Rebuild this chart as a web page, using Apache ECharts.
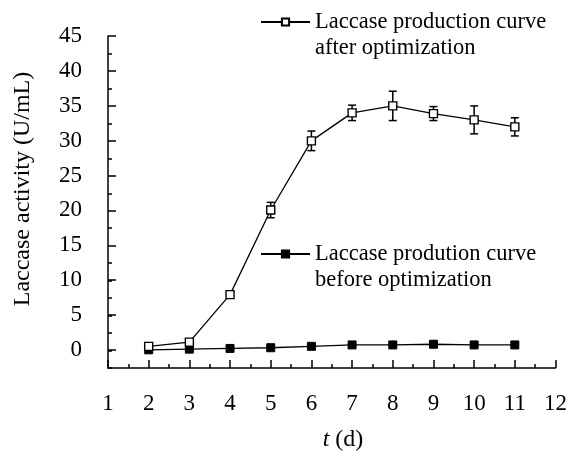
<!DOCTYPE html>
<html>
<head>
<meta charset="utf-8">
<script src="https://cdn.jsdelivr.net/npm/echarts@6/dist/echarts.min.js"></script>
<style>
  html, body { margin: 0; padding: 0; background: #fff; }
  #chart { width: 570px; height: 455px; }
</style>
</head>
<body>
<div id="chart"></div>
<script>
// Cultivation time (days)
const days = [2, 3, 4, 5, 6, 7, 8, 9, 10, 11];
// Laccase activity (U/mL) after medium optimization, with standard deviations
const afterOpt = [0.6, 1.2, 8.0, 20.1, 30.0, 34.0, 35.0, 33.9, 33.0, 32.0];
const afterErr = [0, 0, 0, 1.1, 1.4, 1.1, 2.1, 1.0, 2.0, 1.3];
// Laccase activity (U/mL) before optimization
const beforeOpt = [0.1, 0.2, 0.3, 0.4, 0.6, 0.8, 0.8, 0.9, 0.8, 0.8];
// Axis ticks
const xTicks = [1, 2, 3, 4, 5, 6, 7, 8, 9, 10, 11, 12];
const yTicks = [0, 5, 10, 15, 20, 25, 30, 35, 40, 45];

const names = {
  after: 'Laccase production curve\nafter optimization',
  before: 'Laccase prodution curve\nbefore optimization'
};

const serif = '"Times New Roman", "Liberation Serif", serif';
const black = '#000';

const pair = (xs, ys) => xs.map((x, i) => [x, ys[i]]);
const errData = days.map((d, i) => [d, afterOpt[i] - afterErr[i], afterOpt[i] + afterErr[i], afterErr[i]]);

const chart = echarts.init(document.getElementById('chart'), null, { renderer: 'canvas' });

const legendBase = {
  orient: 'vertical',
  padding: 0,
  itemWidth: 49,
  itemHeight: 9,
  selectedMode: false,
  // a blank leading line keeps the icon level with the first text line
  formatter: name => ' \n' + name,
  textStyle: { fontFamily: serif, fontSize: 22.5, color: black, lineHeight: 26 }
};

chart.setOption({
  animation: false,
  backgroundColor: '#fff',
  grid: [
    { left: 108, right: 11, top: 36, bottom: 87 },
    { left: 108, right: 11, top: 36, bottom: 105 }
  ],
  legend: [
    Object.assign({}, legendBase, { data: [names.after], left: 260, top: -17 }),
    Object.assign({}, legendBase, { data: [names.before], left: 260, top: 215 })
  ],
  xAxis: [
    {
      gridIndex: 0, type: 'value', min: xTicks[0], max: xTicks[xTicks.length - 1], interval: 1,
      axisLine: { onZero: false, lineStyle: { color: black, width: 1.5 } },
      axisTick: { inside: true, length: 8, lineStyle: { color: black, width: 1.5 } },
      minorTick: { show: true, splitNumber: 2, length: 4, lineStyle: { color: black, width: 1.5 } },
      axisLabel: { margin: 24, fontFamily: serif, fontSize: 23, color: black },
      splitLine: { show: false }
    },
    { gridIndex: 1, type: 'value', min: xTicks[0], max: xTicks[xTicks.length - 1], show: false }
  ],
  yAxis: [
    {
      // full-height axis line with short ticks every 2.5
      gridIndex: 0, type: 'value', min: -2.5, max: yTicks[yTicks.length - 1], interval: 2.5,
      axisLine: { show: true, onZero: false, lineStyle: { color: black, width: 1.5 } },
      axisTick: { inside: true, length: 4, lineStyle: { color: black, width: 1.5 } },
      axisLabel: { show: false },
      splitLine: { show: false }
    },
    {
      // long ticks and labels every 5
      gridIndex: 1, type: 'value', min: yTicks[0], max: yTicks[yTicks.length - 1], interval: 5,
      axisLine: { show: false, onZero: false },
      axisTick: { show: true, inside: true, length: 8, lineStyle: { color: black, width: 1.5 } },
      axisLabel: { margin: 26, fontFamily: serif, fontSize: 23, color: black },
      splitLine: { show: false }
    }
  ],
  graphic: [
    {
      type: 'text', x: 23, y: 189, rotation: Math.PI / 2,
      style: {
        text: 'Laccase activity (U/mL)', font: '24px ' + serif, fill: black,
        align: 'center', verticalAlign: 'middle'
      }
    },
    {
      type: 'text', x: 343, y: 440,
      style: {
        text: '{i|t} (d)', fill: black, align: 'center', verticalAlign: 'middle',
        fontFamily: serif, fontSize: 24,
        rich: { i: { fontStyle: 'italic', fontFamily: serif, fontSize: 24 } }
      }
    }
  ],
  series: [
    {
      type: 'custom',
      xAxisIndex: 0, yAxisIndex: 0,
      z: 1,
      silent: true,
      data: errData,
      renderItem: (params, api) => {
        if (api.value(3) <= 0) return null;
        const x = api.value(0);
        const lo = api.coord([x, api.value(1)]);
        const hi = api.coord([x, api.value(2)]);
        const w = 4;
        const st = { stroke: black, lineWidth: 1.5 };
        return {
          type: 'group',
          children: [
            { type: 'line', shape: { x1: lo[0], y1: lo[1], x2: hi[0], y2: hi[1] }, style: st },
            { type: 'line', shape: { x1: hi[0] - w, y1: hi[1], x2: hi[0] + w, y2: hi[1] }, style: st },
            { type: 'line', shape: { x1: lo[0] - w, y1: lo[1], x2: lo[0] + w, y2: lo[1] }, style: st }
          ]
        };
      }
    },
    {
      name: names.after,
      type: 'line',
      xAxisIndex: 0, yAxisIndex: 0,
      z: 3,
      data: pair(days, afterOpt),
      symbol: 'rect',
      symbolSize: 8,
      lineStyle: { color: black, width: 1.3 },
      itemStyle: { color: '#fff', borderColor: black, borderWidth: 1.4 }
    },
    {
      name: names.before,
      type: 'line',
      xAxisIndex: 0, yAxisIndex: 0,
      z: 2,
      data: pair(days, beforeOpt),
      symbol: 'rect',
      symbolSize: 8,
      lineStyle: { color: black, width: 1.3 },
      itemStyle: { color: black, borderColor: black, borderWidth: 1 }
    }
  ]
});
</script>
</body>
</html>
